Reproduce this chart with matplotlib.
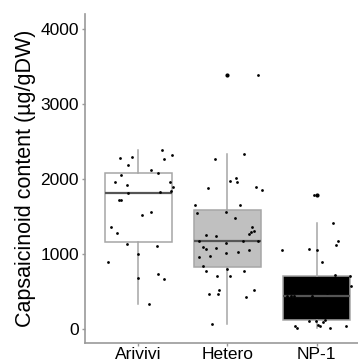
import matplotlib
matplotlib.use("Agg")
import matplotlib.pyplot as plt

plt.rcParams['font.family'] = ['Liberation Sans', 'DejaVu Sans']

categories = ["Arivivi", "Hetero", "NP-1"]
box_fills = ["white", "#c0c0c0", "black"]

# values, with the horizontal jitter of each dot
arivivi = [2284, 2302, 2196, 2386, 2328, 2271, 2122, 2086, 2056, 1963,
           1923, 1967, 1897, 1844, 1825, 1817, 1725, 1725, 1566, 1530,
           1368, 1279, 1134, 1111, 1000, 894, 682, 741, 671, 340]
arivivi_jit = [-0.21, -0.075, -0.12, 0.26, 0.38, 0.29, 0.14, 0.22, -0.20, -0.26,
               -0.13, 0.36, 0.39, 0.37, 0.24, -0.12, -0.22, -0.20, 0.14, 0.04,
               -0.31, -0.24, -0.13, 0.21, -0.01, -0.34, -0.01, 0.22, 0.29, 0.12]

hetero = [2275, 2333, 1976, 2016, 1963, 1878, 1897, 1861, 1663, 1663,
          1548, 1570, 1487, 1368, 1306, 1292, 1270, 1262, 1249, 1183,
          1151, 1173, 1173, 1094, 1071, 1085, 1019, 1028, 1058, 971,
          979, 847, 776, 803, 772, 714, 714, 476, 521, 472,
          433, 529, 79, 3382]
hetero_jit = [-0.14, 0.18, 0.03, 0.09, 0.11, -0.22, 0.32, 0.39, -0.37, 0.14,
              -0.34, -0.02, 0.08, 0.28, 0.30, 0.26, 0.24, -0.24, -0.13, -0.32,
              -0.02, 0.17, 0.34, -0.27, -0.24, -0.13, -0.02, 0.12, 0.24, -0.32,
              -0.20, -0.27, -0.24, -0.01, 0.19, -0.12, 0.03, -0.21, -0.09, -0.11,
              0.21, 0.30, -0.17, 0.34]

np1 = [1786, 1420, 1183, 1120, 1054, 1071, 1054, 905, 724, 710,
       574, 450, 450, 450, 45, 22, 115, 111, 66, 45,
       98, 26, 45, 132, 160, 210, 250, 290, 330, 370,
       410, 440, 480, 520, 610, 650, 690]
np1_jit = [-0.03, 0.18, 0.24, 0.22, -0.39, -0.09, 0.01, 0.06, 0.21, 0.37,
           0.39, -0.29, -0.25, -0.05, -0.24, -0.22, -0.09, -0.01, 0.02, 0.04,
           0.07, 0.15, 0.33, 0.10, -0.20, 0.25, -0.30, 0.05, 0.18, -0.12,
           0.30, -0.33, 0.12, -0.18, 0.27, -0.06, 0.15]

groups = [arivivi, hetero, np1]
jitters = [arivivi_jit, hetero_jit, np1_jit]

fig = plt.figure(figsize=(3.58, 3.64), dpi=100)
ax = fig.add_axes([85 / 358, 21 / 364, 285 / 358, 329 / 364])

bp = ax.boxplot(groups, positions=[1, 2, 3], widths=0.75, patch_artist=True,
                whis=1.5,
                boxprops=dict(color="#a6a6a6", linewidth=1.1),
                whiskerprops=dict(color="#a6a6a6", linewidth=1.1),
                capprops=dict(linewidth=0),
                medianprops=dict(color="#555555", linewidth=1.6),
                flierprops=dict(marker="o", markersize=2,
                                markerfacecolor="black", markeredgecolor="black"))
for patch, fc in zip(bp["boxes"], box_fills):
    patch.set_facecolor(fc)

for i, (vals, jit) in enumerate(zip(groups, jitters)):
    xs = [i + 1 + j for j in jit]
    ax.scatter(xs, vals, s=4, color="black", zorder=3, linewidths=0)

ax.set_xlim(0.4, 3.6)
ax.set_ylim(-180, 4200)
ax.set_yticks([0, 1000, 2000, 3000, 4000])
ax.set_xticks([1, 2, 3])
ax.set_xticklabels(categories)
ax.set_ylabel("Capsaicinoid content (µg/gDW)", fontsize=15.5, labelpad=3)

for side in ["top", "right"]:
    ax.spines[side].set_visible(False)
for side in ["left", "bottom"]:
    ax.spines[side].set_color("#999999")
    ax.spines[side].set_linewidth(1.2)
ax.tick_params(axis="both", colors="#999999", length=2.5, width=1.0,
               labelsize=12.5, labelcolor="black", pad=2)
ax.tick_params(axis="x", pad=0.5)

fig.savefig("out.png", dpi=100)
